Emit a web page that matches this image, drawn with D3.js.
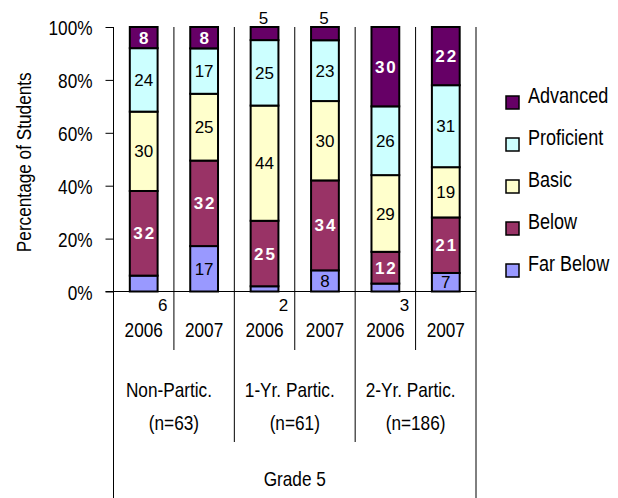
<!DOCTYPE html>
<html>
<head>
<meta charset="utf-8">
<script src="https://cdn.jsdelivr.net/npm/d3@7"></script>
<style>
  html, body { margin: 0; padding: 0; background: #fff; }
  svg { display: block; }
  text { font-family: "Liberation Sans", Arial, sans-serif; }
</style>
</head>
<body>
<svg id="chart" width="618" height="498"></svg>
<script>
// ---- Data ----
const categories = ["2006", "2007", "2006", "2007", "2006", "2007"];
const groups = ["Non-Partic.", "1-Yr. Partic.", "2-Yr. Partic."];
const groupN = ["(n=63)", "(n=61)", "(n=186)"];
const outerLabel = ["Grade 5"];
const series = ["Far Below", "Below", "Basic", "Proficient", "Advanced"];
const farBelow   = [6, 17, 2, 8, 3, 7];
const below      = [32, 32, 25, 34, 12, 21];
const basic      = [30, 25, 44, 30, 29, 19];
const proficient = [24, 17, 25, 23, 26, 31];
const advanced   = [8, 8, 5, 5, 30, 22];
const yTicks = [0, 0.2, 0.4, 0.6, 0.8, 1];
const colors = ["#9999FF", "#993366", "#FFFFCC", "#CCFFFF", "#660066"];
const whiteBold = ["Below", "Advanced"];
const yTitle = "Percentage of Students";

(function () {
// ---- Layout ----
const W = 618, H = 498;
const pLeft = 113.5, pRight = 476, pTop = 27, pBottom = 291.5;
const NARROW = 0.82;
const svg = d3.select("#chart");
svg.append("rect").attr("width", W).attr("height", H).attr("fill", "#fff");

function narrowText(parent, tx, ty, str, size, anchor, rotate) {
  return parent.append("text")
    .attr("transform", `translate(${tx},${ty})${rotate ? " rotate(" + rotate + ")" : ""} scale(${NARROW},1)`)
    .attr("text-anchor", anchor || "start")
    .attr("font-size", size).attr("fill", "#000")
    .text(str);
}

const seriesVals = [farBelow, below, basic, proficient, advanced];
const rows = categories.map((c, i) => {
  const r = { idx: i, cat: c };
  series.forEach((s, k) => r[s] = seriesVals[k][i]);
  return r;
});

const stack = d3.stack().keys(series).offset(d3.stackOffsetExpand);
const layers = stack(rows);

const x = d3.scaleBand().domain(d3.range(categories.length)).range([pLeft, pRight]).paddingInner(0).paddingOuter(0);
const y = d3.scaleLinear().domain([0, 1]).range([pBottom, pTop]);
const color = d3.scaleOrdinal().domain(series).range(colors);
const barW = x.bandwidth() * 0.46;

// vertical gridlines at band boundaries inside plot
const g = svg.append("g");
const bounds = d3.range(1, categories.length + 1).map(i => i < categories.length ? x(i) : pRight);
g.selectAll("line.vgrid").data(bounds).join("line")
  .attr("x1", d => d).attr("x2", d => d)
  .attr("y1", pTop).attr("y2", pBottom)
  .attr("stroke", "#000").attr("stroke-width", 1);

// bars
layers.forEach(layer => {
  g.selectAll(null).data(layer).join("rect")
    .attr("x", d => x(d.data.idx) + (x.bandwidth() - barW) / 2)
    .attr("y", d => y(d[1]))
    .attr("width", barW)
    .attr("height", d => y(d[0]) - y(d[1]))
    .attr("fill", color(layer.key))
    .attr("stroke", "#000")
    .attr("stroke-width", 2);
});

// y axis
const yAxis = d3.axisLeft(y).tickValues(yTicks).tickFormat(d3.format(".0%")).tickSize(8).tickSizeOuter(0).tickPadding(13);
const ya = svg.append("g").attr("transform", `translate(${pLeft},0)`).call(yAxis);
ya.select(".domain").remove();
ya.selectAll(".tick line").attr("stroke", "#000");
ya.selectAll(".tick text")
  .attr("font-family", "'Liberation Sans', Arial, sans-serif")
  .attr("font-size", 21).attr("fill", "#000").attr("dy", "0.36em")
  .attr("x", -21 / NARROW)
  .attr("transform", `scale(${NARROW},1)`);

// axis lines
svg.append("line").attr("x1", pLeft).attr("x2", pLeft).attr("y1", pTop).attr("y2", H)
  .attr("stroke", "#000").attr("stroke-width", 1);
svg.append("line").attr("x1", pLeft - 8).attr("x2", pRight).attr("y1", pBottom).attr("y2", pBottom)
  .attr("stroke", "#000").attr("stroke-width", 1);
svg.append("line").attr("x1", pRight).attr("x2", pRight).attr("y1", pBottom).attr("y2", H)
  .attr("stroke", "#000").attr("stroke-width", 1);

// category axis dividers & labels
const cax = svg.append("g");
categories.forEach((c, i) => {
  if (i > 0) {
    const isGroupBoundary = i % 2 === 0;
    cax.append("line").attr("x1", x(i)).attr("x2", x(i))
      .attr("y1", pBottom).attr("y2", isGroupBoundary ? 442 : 350)
      .attr("stroke", "#000").attr("stroke-width", 1);
  }
  narrowText(cax, x(i) + x.bandwidth() / 2, 337, c, 21, "middle");
});
groups.forEach((gname, j) => {
  const cx = (x(j * 2) + x(j * 2 + 1) + x.bandwidth()) / 2;
  narrowText(cax, cx - 5, 397, gname, 21, "middle");
  narrowText(cax, cx, 430, groupN[j], 21, "middle");
});
narrowText(cax, (pLeft + pRight) / 2, 486, outerLabel[0], 21, "middle");

// y title
narrowText(svg, 31, (pTop + pBottom) / 2 + 3, yTitle, 21, "middle", -90);

// data labels
layers.forEach(layer => {
  const isWhite = whiteBold.includes(layer.key);
  layer.forEach(d => {
    const v = d.data[layer.key];
    const cx = x(d.data.idx) + x.bandwidth() / 2;
    const t = svg.append("text").attr("font-size", 17).text(v);
    if (v >= 7) {
      t.attr("x", cx + (isWhite ? 1 : 0)).attr("y", (y(d[0]) + y(d[1])) / 2).attr("dy", "0.36em")
        .attr("text-anchor", "middle")
        .attr("fill", isWhite ? "#fff" : "#000")
        .attr("font-weight", isWhite ? "bold" : "normal")
        .attr("letter-spacing", isWhite ? 2 : 0);
    } else if (layer.key === "Far Below") {
      t.attr("x", cx + 19).attr("y", pBottom + 19).attr("text-anchor", "middle").attr("fill", "#000");
    } else {
      t.attr("x", cx - 1).attr("y", pTop - 3).attr("text-anchor", "middle").attr("fill", "#000");
    }
  });
});

// legend
const legend = svg.append("g");
series.slice().reverse().forEach((s, i) => {
  const by = 103 + i * 42;
  legend.append("rect").attr("x", 506).attr("y", by - 7).attr("width", 13).attr("height", 13)
    .attr("fill", color(s)).attr("stroke", "#000").attr("stroke-width", 1.5);
  narrowText(legend, 528, by, s, 22, "start");
});
})();
</script>
</body>
</html>
